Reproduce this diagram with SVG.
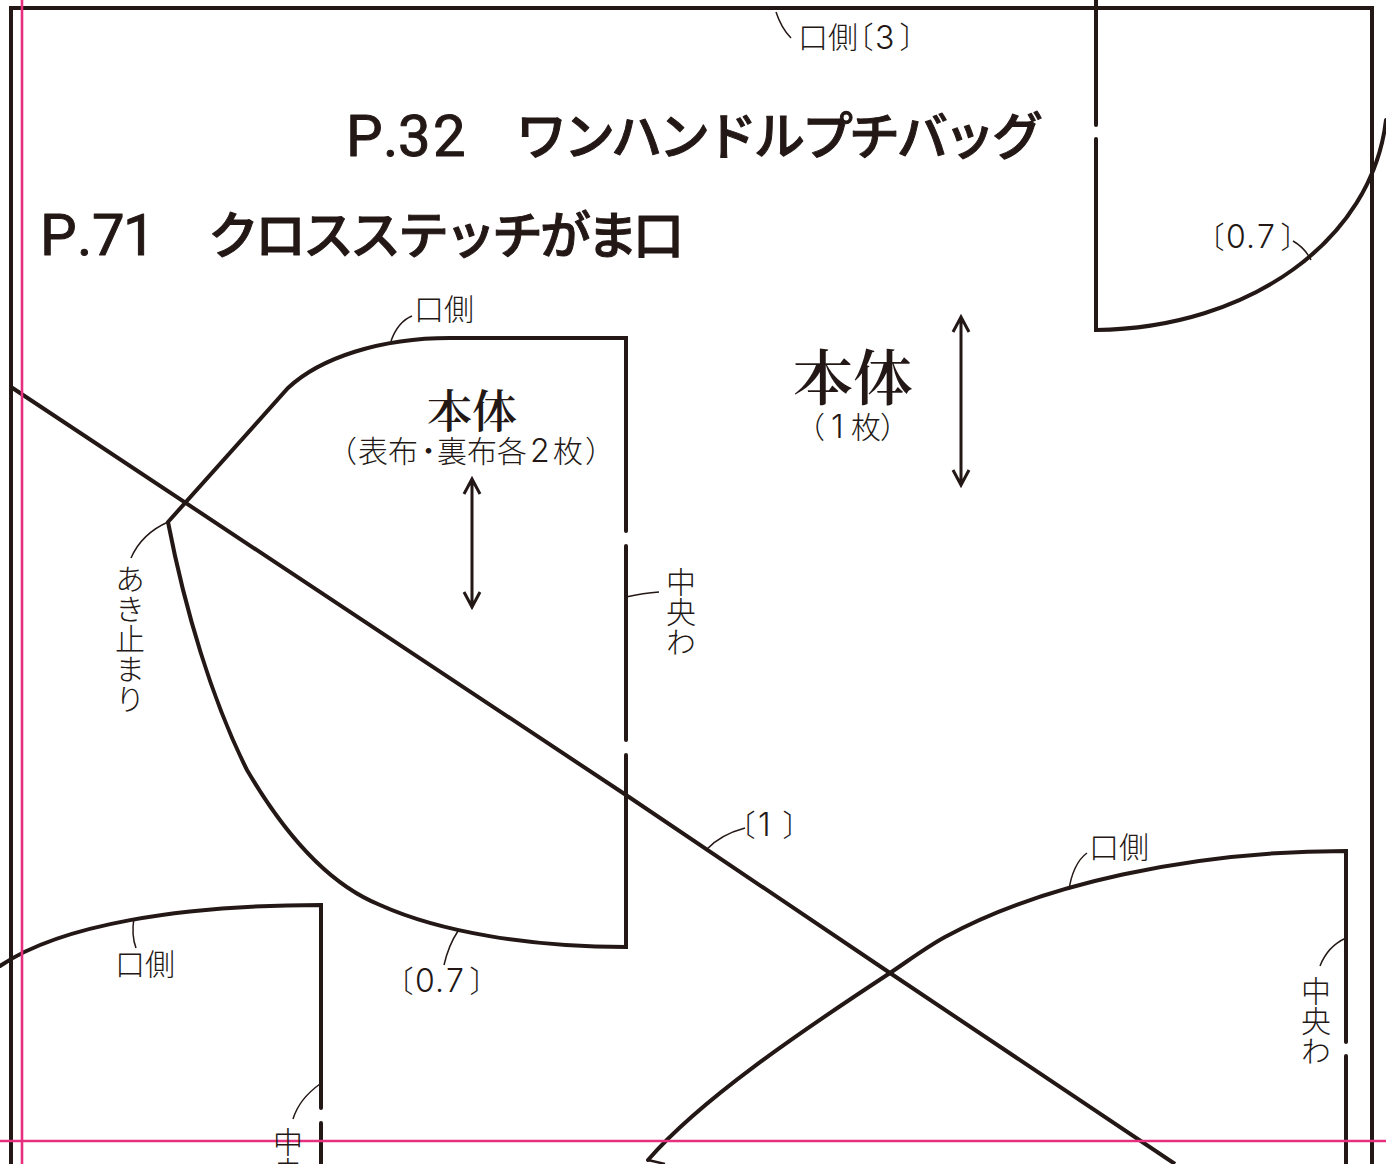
<svg xmlns="http://www.w3.org/2000/svg" width="1386" height="1164" viewBox="0 0 1386 1164">
<style>
.c{fill:none;stroke:#231815;stroke-width:4;stroke-linecap:butt;stroke-linejoin:miter}
.r{stroke-linecap:round}
.l{fill:none;stroke:#231815;stroke-width:1.5}
.p{fill:none;stroke:#e6307f;stroke-width:2.6}
.a{fill:none;stroke:#231815;stroke-width:3}
.t{font-family:"Noto Sans CJK JP","Noto Sans CJK SC",sans-serif;font-weight:300;fill:#231815;font-size:30px}
.b{font-feature-settings:"palt"}
.d{font-family:Inter,"Liberation Sans",sans-serif;font-weight:300;font-size:32px}
.v{writing-mode:vertical-rl;text-orientation:upright}
.h{font-family:"Noto Sans CJK JP",sans-serif;font-weight:500;font-size:51px;fill:#231815;stroke:#231815;stroke-width:1;stroke-linejoin:round}
.n{font-family:Roboto,"Liberation Sans",sans-serif;font-size:58px;font-weight:400}
.s{font-family:"Noto Serif CJK JP","Noto Sans CJK JP",serif;font-weight:600;fill:#231815}
</style>
<g id="connectors">
<path class="c" d="M11 1164V8H1372V1164"/>
<path class="c r" d="M1096 0V125M1096 139V330C1250 328 1372 240 1386 120"/>
<path class="c r" d="M626 531V338H450C380 338 320 358 288 388L168 522C185 610 212 700 247 770C285 835 330 885 380 905C440 932 530 947 626 947V755M626 546V740"/>
<path class="c" d="M11 387L626 795L890 973L1175 1164"/>
<path class="c r" d="M1346 1042V851C1190 851 1040 885 945 937C925 948 908 961 890 973C800 1032 700 1100 648 1160"/>
<path class="l" style="stroke-width:2.4" d="M648 1160L665 1164"/>
<path class="c r" d="M1346 1056V1164"/>
<path class="c r" d="M0 966C60 925 180 905 321 905V1108M321 1123V1164"/>
<path class="l" d="M776 12C780 24 785 32 791 38"/>
<path class="l" d="M1293 241C1300 245 1307 252 1311 260"/>
<path class="l" d="M412 316C402 320 395 330 391 341"/>
<path class="l" d="M168 522C150 530 138 542 131 558"/>
<path class="l" d="M626 597C635 595 645 593 659 592"/>
<path class="l" d="M745 828C730 832 717 838 706 850"/>
<path class="l" d="M458 931C452 940 447 952 444 965"/>
<path class="l" d="M1087 853C1077 860 1071 875 1069 890"/>
<path class="l" d="M1346 938C1335 943 1325 953 1320 966"/>
<path class="l" d="M134 918C132 930 133 940 136 948"/>
<path class="l" d="M320 1084C306 1094 297 1106 293 1119"/>
<path class="a" d="M961 317V485M953 332L961 317L969 332M953 470L961 485L969 470"/>
<path class="a" d="M472 479V607M464 494L472 479L480 494M464 592L472 607L480 592"/>
<path class="p" d="M22 0V1164M0 1141H1386"/>
</g>
<g id="title-p32"><text class="h" y="156"><tspan class="n" x="346 383 398 433">P.32</tspan><tspan x="516 564 611 659 706 754 802 849 897 944 992" y="155">ワンハンドルプチバッグ</tspan></text></g>
<g id="title-p71"><text class="h" y="255"><tspan class="n" x="40 77 92 123">P.71</tspan><tspan x="208 255 303 350 398 445 492 540 587 633" y="254">クロスステッチがま口</tspan></text></g>
<g id="label-kuchi3"><text class="t" y="48"><tspan x="798">口側</tspan><tspan class="b" x="858">〔</tspan><tspan class="d" x="875" y="49">3</tspan><tspan class="b" x="900" y="48">〕</tspan></text></g>
<g id="label-07a"><text class="t" y="248"><tspan class="b" x="1209">〔</tspan><tspan class="d" x="1226 1246 1257">0.7</tspan><tspan class="b" x="1281">〕</tspan></text></g>
<g id="body-right"><text class="s" x="853" y="400" font-size="60" text-anchor="middle">本体</text><text class="t" y="438"><tspan class="b" x="809">（</tspan><tspan class="d" x="831">1</tspan><tspan x="851">枚</tspan><tspan class="b" x="881">）</tspan></text></g>
<g id="body-left"><text class="s" x="472" y="428" font-size="45" text-anchor="middle">本体</text><text class="t" y="462"><tspan class="b" x="341">（</tspan><tspan x="358 388">表布</tspan><tspan class="b" x="421">・</tspan><tspan x="437 467 497">裏布各</tspan><tspan class="d" x="530">2</tspan><tspan x="553">枚</tspan><tspan class="b" x="586">）</tspan></text></g>
<g id="label-kuchi1"><text class="t" x="414" y="320">口側</text></g>
<g id="label-aki"><text class="t v" x="130" y="564">あき止まり</text></g>
<g id="label-wa1"><text class="t v" x="681" y="567">中央わ</text></g>
<g id="label-1"><text class="t" y="836"><tspan class="b" x="740">〔</tspan><tspan class="d" x="758">1</tspan><tspan class="b" x="783">〕</tspan></text></g>
<g id="label-kuchi2"><text class="t" x="1089" y="858">口側</text></g>
<g id="label-07b"><text class="t" y="992"><tspan class="b" x="398">〔</tspan><tspan class="d" x="415 435 446">0.7</tspan><tspan class="b" x="470">〕</tspan></text></g>
<g id="label-kuchi3b"><text class="t" x="115" y="975">口側</text></g>
<g id="label-wa2"><text class="t v" x="1316" y="976">中央わ</text></g>
<g id="label-wa3"><text class="t v" x="288" y="1127">中央わ</text></g>
</svg>
